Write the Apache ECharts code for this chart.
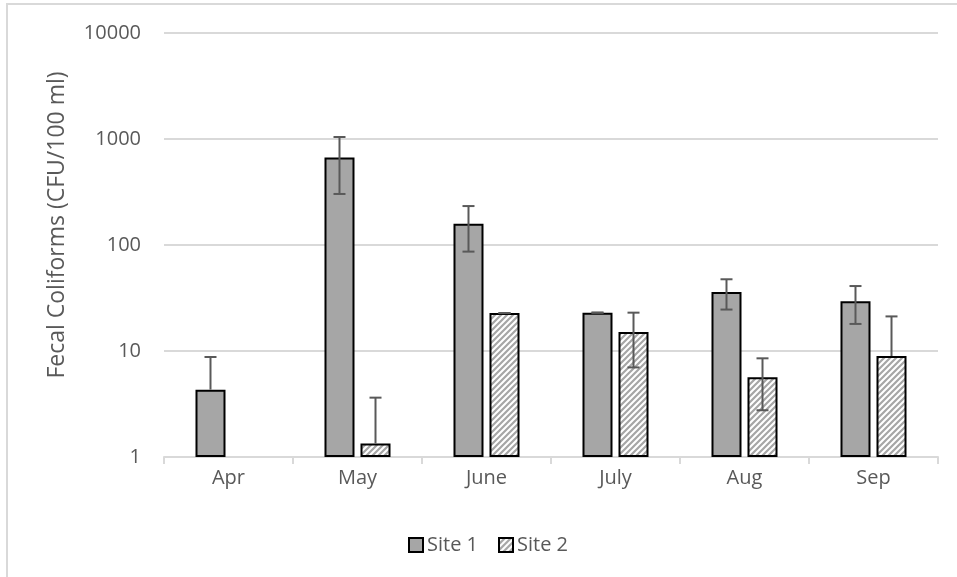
<!DOCTYPE html>
<html>
<head>
<meta charset="utf-8">
<style>
  html, body { margin: 0; padding: 0; background: #ffffff; }
  #chart { width: 957px; height: 577px; }
</style>
<script src="https://cdn.jsdelivr.net/npm/echarts@6/dist/echarts.min.js"></script>
</head>
<body>
<div id="chart"></div>
<script>
// Monthly fecal coliform counts (CFU/100 ml), geometric scale
const months = ['Apr', 'May', 'June', 'July', 'Aug', 'Sep'];
const site1 = [4.32, 668, 159, 23.0, 36.0, 29.4];
const site2 = [null, 1.34, 22.8, 15.1, 5.65, 8.97];
// Error bar ends (null where the whisker is not drawn)
const site1Upper = [8.78, 1044, 233, 23.0, 47.5, 41.0];
const site1Lower = [null, 303, 86.6, 23.0, 24.6, 18.0];
const site2Upper = [null, 3.63, 22.8, 23.0, 8.53, 21.2];
const site2Lower = [null, null, 22.8, 7.0, 2.76, null];
const yTicks = [1, 10, 100, 1000, 10000];

const TEXT = '#595959';
const GRID = '#d9d9d9';
const FONT = '"Open Sans", "Liberation Sans", sans-serif';
const BAR_WIDTH = 0.2326;  // fraction of category band
const BAR_GAP = 0.2;       // fraction of bar width

// Diagonal hatch tile for Site 2
function hatchTile() {
  const c = document.createElement('canvas');
  c.width = 6; c.height = 6;
  const ctx = c.getContext('2d');
  ctx.fillStyle = '#ffffff';
  ctx.fillRect(0, 0, 6, 6);
  ctx.strokeStyle = '#a6a6a6';
  ctx.lineWidth = 2.2;
  ctx.beginPath();
  ctx.moveTo(-1, 7); ctx.lineTo(7, -1);
  ctx.moveTo(-4, 4); ctx.lineTo(4, -4);
  ctx.moveTo(2, 10); ctx.lineTo(10, 2);
  ctx.stroke();
  return c;
}
const hatch = { image: hatchTile(), repeat: 'repeat' };

function errorSeries(name, upper, lower, side) {
  const data = months.map((m, i) => [i, upper[i], lower[i]]);
  return {
    type: 'custom',
    name: name + ' error',
    z: 5,
    silent: true,
    data: data,
    encode: { x: 0, y: [1, 2] },
    renderItem: function (params, api) {
      const i = api.value(0);
      const up = upper[i];
      const lo = lower[i];
      const band = api.size([1, 0])[0];
      const w = band * BAR_WIDTH;
      const offset = side * w * (1 + BAR_GAP) / 2;
      const val = (side < 0 ? site1 : site2)[i];
      if (val == null) return null;
      const center = api.coord([i, val]);
      const x = center[0] + offset;
      const cap = 6;
      const children = [];
      const style = { stroke: TEXT, lineWidth: 2 };
      const topY = up != null ? api.coord([i, up])[1] : center[1];
      const botY = lo != null ? api.coord([i, lo])[1] : center[1];
      children.push({ type: 'line', shape: { x1: x, y1: topY, x2: x, y2: botY }, style: style });
      if (up != null) children.push({ type: 'line', shape: { x1: x - cap, y1: topY, x2: x + cap, y2: topY }, style: style });
      if (lo != null) children.push({ type: 'line', shape: { x1: x - cap, y1: botY, x2: x + cap, y2: botY }, style: style });
      return { type: 'group', children: children };
    }
  };
}

const chart = echarts.init(document.getElementById('chart'), null, { renderer: 'canvas' });
chart.setOption({
  animation: false,
  backgroundColor: '#ffffff',
  textStyle: { fontFamily: FONT },
  graphic: [{
    type: 'rect',
    shape: { x: 7, y: 4, width: 1200, height: 1200 },
    style: { fill: 'none', stroke: GRID, lineWidth: 2 },
    silent: true,
    z: -10
  }],
  grid: { left: 164, right: 19, top: 33, bottom: 120, containLabel: false },
  legend: {
    top: 530,
    left: 403,
    itemWidth: 14,
    itemHeight: 14,
    itemGap: 20,
    textStyle: { color: TEXT, fontSize: 20, fontFamily: FONT, padding: [0, 0, 0, -1] },
    data: [
      { name: 'Site 1', icon: 'rect', itemStyle: { color: '#a6a6a6', borderColor: '#000', borderWidth: 2 } },
      { name: 'Site 2', icon: 'rect', itemStyle: { color: hatch, borderColor: '#000', borderWidth: 2 } }
    ]
  },
  xAxis: {
    type: 'category',
    data: months,
    boundaryGap: true,
    axisLine: { lineStyle: { color: GRID, width: 2 } },
    axisTick: { show: true, length: 7, lineStyle: { color: GRID, width: 2 } },
    axisLabel: { color: TEXT, fontSize: 20, margin: 11, fontFamily: FONT }
  },
  yAxis: {
    type: 'log',
    logBase: 10,
    min: yTicks[0],
    max: yTicks[yTicks.length - 1],
    name: 'Fecal Coliforms (CFU/100 ml)',
    nameLocation: 'middle',
    nameGap: 95,
    nameTextStyle: { color: TEXT, fontSize: 23, fontFamily: FONT, padding: [0, 0, 0, 40] },
    axisLine: { show: false },
    axisTick: { show: false },
    axisLabel: {
      color: TEXT, fontSize: 20, margin: 23, fontFamily: FONT,
      formatter: function (v) { return String(Math.round(v)); }
    },
    splitLine: { lineStyle: { color: GRID, width: 2 } }
  },
  series: [
    {
      name: 'Site 1',
      type: 'bar',
      data: site1,
      barWidth: (BAR_WIDTH * 100) + '%',
      barGap: (BAR_GAP * 100) + '%',
      itemStyle: { color: '#a6a6a6', borderColor: '#000000', borderWidth: 2 }
    },
    {
      name: 'Site 2',
      type: 'bar',
      data: site2,
      barWidth: (BAR_WIDTH * 100) + '%',
      barGap: (BAR_GAP * 100) + '%',
      itemStyle: { color: hatch, borderColor: '#000000', borderWidth: 2 }
    },
    errorSeries('Site 1', site1Upper, site1Lower, -1),
    errorSeries('Site 2', site2Upper, site2Lower, 1)
  ]
});
</script>
</body>
</html>
